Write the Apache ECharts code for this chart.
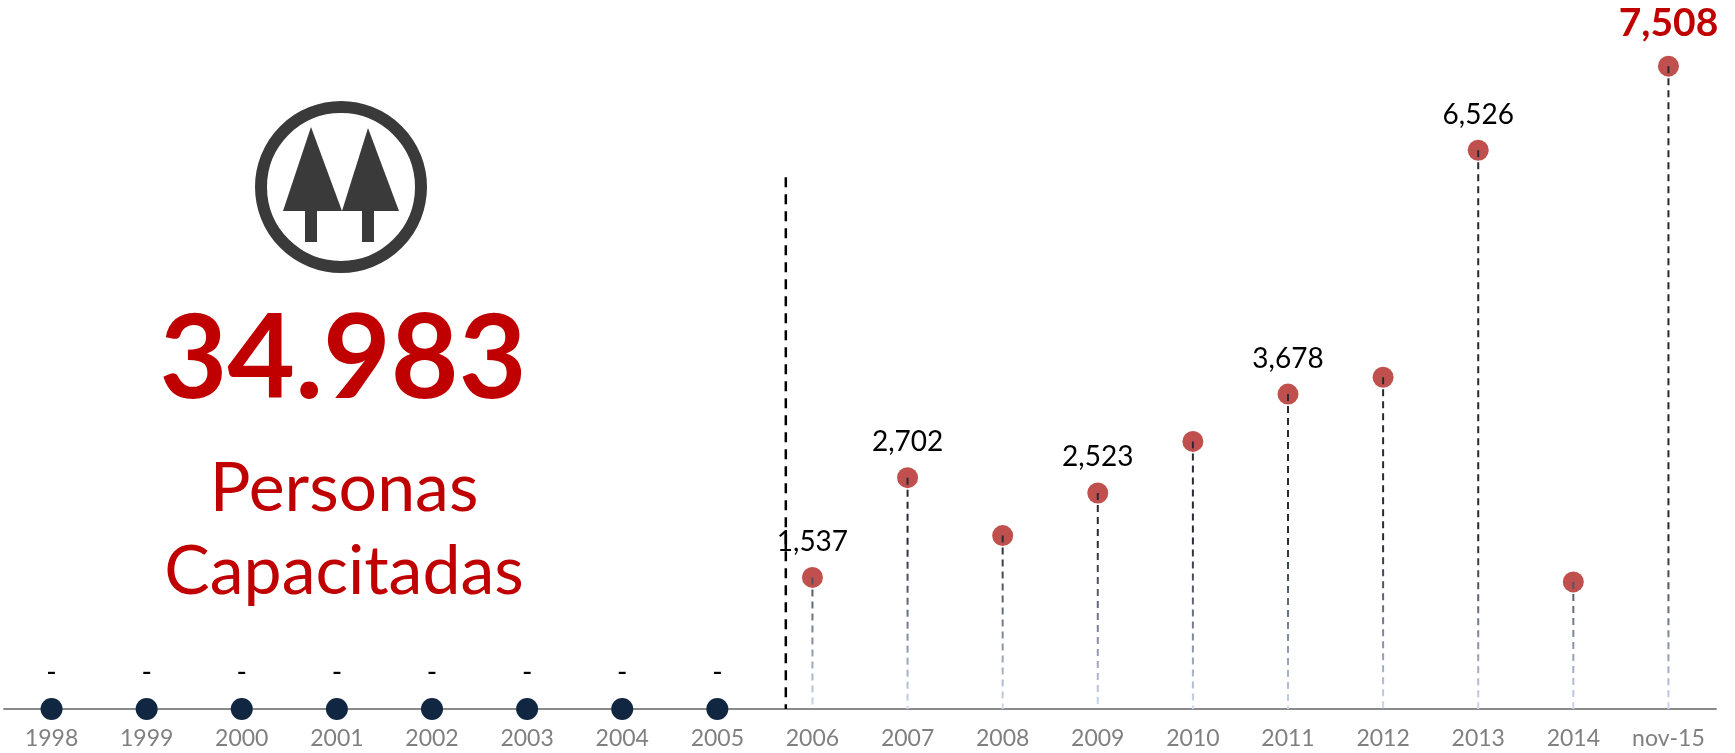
<!DOCTYPE html>
<html><head><meta charset="utf-8">
<script src="https://cdn.jsdelivr.net/npm/echarts@6/dist/echarts.min.js"></script>
<style>html,body{margin:0;padding:0;background:#fff}#c{width:1735px;height:753px}</style>
</head><body><div id="c"></div>
<script>
const categories = ['1998','1999','2000','2001','2002','2003','2004','2005','2006','2007','2008','2009','2010','2011','2012','2013','2014','nov-15'];
const values = [0,0,0,0,0,0,0,0,1537,2702,2025,2523,3125,3678,3875,6526,1484,7508];
const shownLabels = ['-','-','-','-','-','-','-','-','1,537','2,702','','2,523','','3,678','','6,526','','7,508'];
const totalText = '34.983';
const subtitle1 = 'Personas';
const subtitle2 = 'Capacitadas';
const firstActiveIndex = 8;
const separatorTopValue = 6210;
const separatorFrac = 0.72;

const RED = '#C0504D', NAVY = '#112640', TXT_RED = '#C00000';
const FONT = 'Lato, "Noto Sans", sans-serif';

const navyData = [], redData = [], dropData = [];
values.forEach((v, i) => {
  const lastIdx = values.length - 1;
  const lab = shownLabels[i];
  const isLast = i === lastIdx;
  const item = {
    value: [i, v],
    label: {
      show: lab !== '',
      formatter: lab,
      fontSize: isLast ? 39 : 28,
      fontWeight: isLast ? 'bold' : 'normal',
      color: isLast ? TXT_RED : '#000',
      distance: isLast ? 13 : (i < firstActiveIndex ? 11 : 11)
    }
  };
  if (i < firstActiveIndex) navyData.push(item); else { redData.push(item); dropData.push([i, v]); }
});

const chart = echarts.init(document.getElementById('c'), null, {renderer: 'canvas'});
chart.setOption({
  animation: false,
  backgroundColor: '#fff',
  grid: {left: 4, right: 19, top: 24, bottom: 44},
  xAxis: {
    type: 'category', data: categories, boundaryGap: true,
    axisLine: {show: true, lineStyle: {color: '#8a8a8a', width: 2}},
    axisTick: {show: false},
    axisLabel: {color: '#808080', fontSize: 23, fontFamily: FONT, margin: 18, interval: 0}
  },
  yAxis: {type: 'value', min: 0, max: 8000, show: false, splitLine: {show: false}},
  graphic: [
    {type: 'circle', shape: {cx: 341, cy: 187, r: 80}, style: {fill: 'none', stroke: '#3a3a3a', lineWidth: 12}},
    {type: 'polygon', shape: {points: [[311,127],[283,211],[342,211]]}, style: {fill: '#3a3a3a'}},
    {type: 'polygon', shape: {points: [[368,128],[342,211],[399,211]]}, style: {fill: '#3a3a3a'}},
    {type: 'rect', shape: {x: 305, y: 209, width: 12, height: 33}, style: {fill: '#3a3a3a'}},
    {type: 'rect', shape: {x: 362, y: 209, width: 12, height: 33}, style: {fill: '#3a3a3a'}},
    {type: 'text', x: 343, y: 360, style: {text: totalText, font: 'bold 117px ' + FONT, fill: TXT_RED, textAlign: 'center', textVerticalAlign: 'middle'}},
    {type: 'text', x: 344, y: 489, style: {text: subtitle1, font: '68px ' + FONT, fill: TXT_RED, textAlign: 'center', textVerticalAlign: 'middle'}},
    {type: 'text', x: 344, y: 572, style: {text: subtitle2, font: '68px ' + FONT, fill: TXT_RED, textAlign: 'center', textVerticalAlign: 'middle'}}
  ],
  series: [
    {
      type: 'scatter', data: navyData, symbolSize: 22, z: 3,
      itemStyle: {color: NAVY, opacity: 1},
      label: {show: true, position: 'top', fontFamily: FONT}
    },
    {
      type: 'scatter', data: redData, symbolSize: 21, z: 3,
      itemStyle: {color: RED, opacity: 1},
      label: {show: true, position: 'top', fontFamily: FONT}
    },
    {
      type: 'custom', z: 4, data: dropData, silent: true,
      renderItem: function (params, api) {
        const i = api.value(0), v = api.value(1);
        const pTop = api.coord([i, v]);
        const pBot = api.coord([i, 0]);
        return {
          type: 'line',
          shape: {x1: pTop[0], y1: pTop[1], x2: pBot[0], y2: pBot[1]},
          style: {
            stroke: new echarts.graphic.LinearGradient(0, pBot[1] - 170, 0, pBot[1], [
              {offset: 0, color: '#262a33'},
              {offset: 0.45, color: '#6b7386'},
              {offset: 1, color: '#cbd9f2'}
            ], true),
            lineWidth: 2, lineDash: [7, 5]
          }
        };
      }
    },
    {
      type: 'custom', z: 6, silent: true,
      data: [[firstActiveIndex - 1, separatorTopValue]],
      renderItem: function (params, api) {
        const i = api.value(0), v = api.value(1);
        const a = api.coord([i, v]);
        const b = api.coord([i + 1, 0]);
        const x = a[0] + separatorFrac * (b[0] - a[0]);
        return {
          type: 'line',
          shape: {x1: x, y1: a[1], x2: x, y2: b[1]},
          style: {stroke: '#000', lineWidth: 2.5, lineDash: [10, 7]}
        };
      }
    }
  ]
});
</script></body></html>
